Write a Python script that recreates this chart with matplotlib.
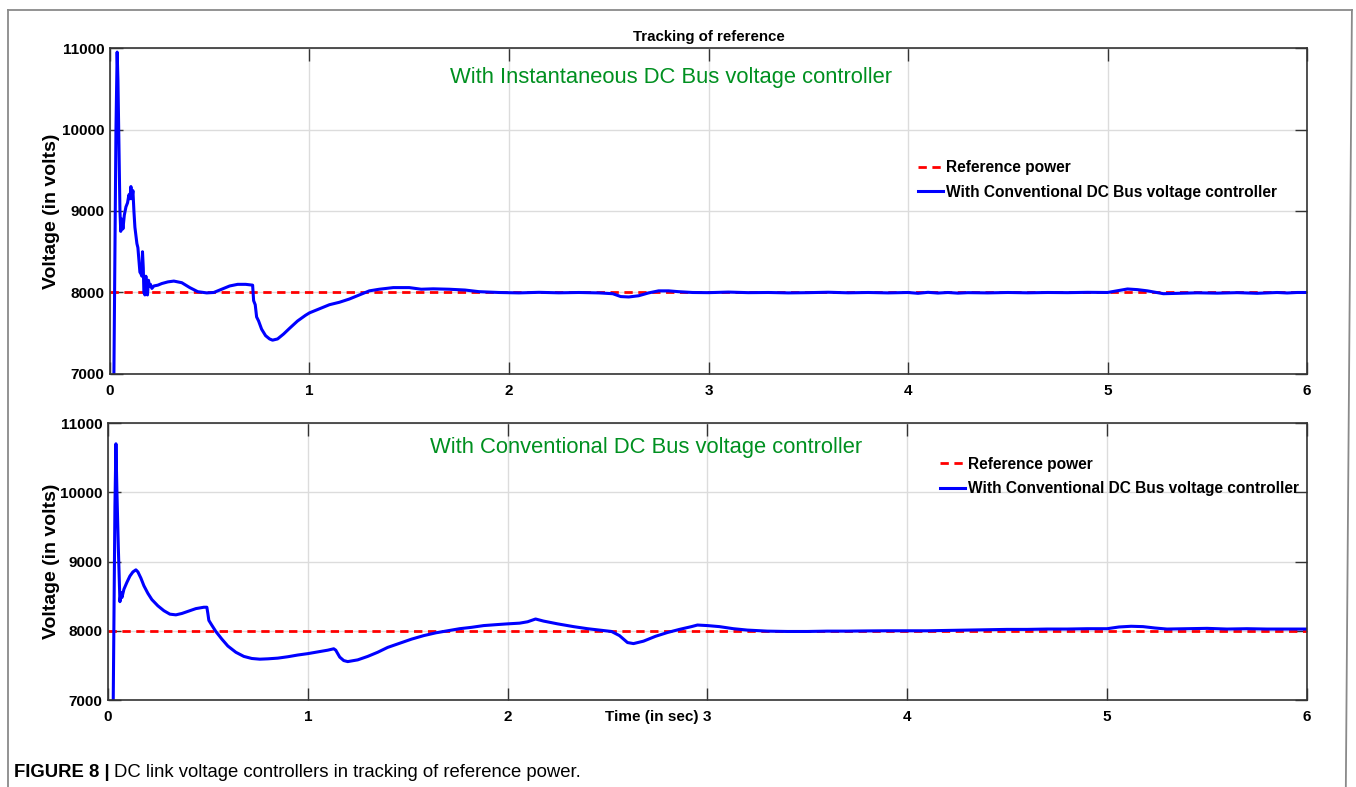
import matplotlib
matplotlib.use("Agg")
import matplotlib.pyplot as plt
from matplotlib.lines import Line2D

plt.rcParams['font.family'] = ['Liberation Sans', 'DejaVu Sans']

# --- DC link voltage, instantaneous controller ---
inst_t = [0.018, 0.030, 0.036, 0.040, 0.045, 0.050, 0.054, 0.060, 0.065, 0.072,
          0.080, 0.088, 0.095, 0.100, 0.105, 0.110, 0.115, 0.120, 0.125, 0.130,
          0.135, 0.140, 0.145, 0.150, 0.155, 0.160, 0.163, 0.167, 0.170, 0.175,
          0.180, 0.184, 0.188, 0.193, 0.198, 0.203, 0.210, 0.220, 0.240, 0.260,
          0.290, 0.320, 0.360, 0.400, 0.440, 0.485, 0.520, 0.560, 0.600, 0.640,
          0.680, 0.715, 0.720, 0.728, 0.735, 0.745, 0.760, 0.780, 0.800, 0.815,
          0.840, 0.870, 0.900, 0.940, 0.980, 1.000, 1.050, 1.100, 1.150, 1.200,
          1.250, 1.300, 1.350, 1.420, 1.500, 1.560, 1.620, 1.700, 1.780, 1.850,
          1.950, 2.050, 2.150, 2.250, 2.350, 2.450, 2.520, 2.560, 2.600, 2.650,
          2.700, 2.750, 2.800, 2.850, 2.920, 3.000, 3.100, 3.200, 3.300, 3.400,
          3.500, 3.600, 3.700, 3.800, 3.900, 4.000, 4.050, 4.100, 4.150, 4.200,
          4.250, 4.300, 4.400, 4.500, 4.600, 4.700, 4.800, 4.900, 5.000, 5.060,
          5.100, 5.150, 5.200, 5.280, 5.350, 5.450, 5.550, 5.650, 5.750, 5.850,
          5.900, 5.950, 6.000]
inst_v = [6500, 10000, 10950, 10600, 9800, 9000, 8750, 8900, 8780, 8950,
          9050, 9100, 9200, 9150, 9300, 9150, 9250, 9000, 8800, 8700,
          8600, 8550, 8400, 8250, 8230, 8200, 8500, 8300, 8000, 7970,
          8200, 8050, 7970, 8150, 8080, 8100, 8050, 8080, 8090, 8110,
          8130, 8140, 8120, 8060, 8010, 7995, 8000, 8040, 8080, 8100,
          8100, 8090, 7900, 7850, 7700, 7650, 7550, 7470, 7430, 7415,
          7430, 7490, 7560, 7650, 7720, 7750, 7800, 7850, 7880, 7920,
          7970, 8020, 8040, 8060, 8060, 8040, 8045, 8040, 8030, 8010,
          8000, 7995, 8002, 7996, 8000, 7995, 7985, 7950, 7945, 7960,
          7995, 8020, 8020, 8010, 8000, 7998, 8005, 7998, 8000, 7995,
          7998, 8003, 7996, 8000, 7995, 8000, 7990, 8002, 7993, 8000,
          7992, 7998, 7995, 8000, 7996, 8000, 7998, 8002, 8000, 8025,
          8043, 8035, 8020, 7985, 7990, 7996, 7992, 7998, 7990, 8000,
          7994, 8000, 8000]

# --- DC link voltage, conventional controller ---
conv_t = [0.025, 0.035, 0.040, 0.045, 0.052, 0.060, 0.065, 0.070, 0.080, 0.095,
          0.110, 0.125, 0.140, 0.150, 0.165, 0.180, 0.200, 0.220, 0.250, 0.280,
          0.310, 0.340, 0.370, 0.400, 0.440, 0.480, 0.495, 0.500, 0.505, 0.520,
          0.540, 0.570, 0.600, 0.640, 0.680, 0.720, 0.760, 0.800, 0.850, 0.900,
          0.950, 1.000, 1.050, 1.100, 1.130, 1.140, 1.160, 1.180, 1.200, 1.250,
          1.300, 1.350, 1.400, 1.460, 1.520, 1.580, 1.640, 1.700, 1.760, 1.820,
          1.880, 1.950, 2.000, 2.060, 2.100, 2.140, 2.180, 2.250, 2.330, 2.400,
          2.460, 2.520, 2.560, 2.600, 2.630, 2.680, 2.740, 2.800, 2.860, 2.920,
          2.950, 3.000, 3.060, 3.130, 3.200, 3.300, 3.400, 3.500, 3.600, 3.700,
          3.800, 3.900, 4.000, 4.100, 4.200, 4.300, 4.400, 4.500, 4.600, 4.700,
          4.800, 4.900, 5.000, 5.060, 5.120, 5.180, 5.240, 5.300, 5.400, 5.500,
          5.600, 5.700, 5.800, 5.900, 6.000]
conv_v = [6500, 9800, 10700, 10000, 9200, 8420, 8550, 8480, 8600, 8700,
          8790, 8850, 8880, 8850, 8760, 8650, 8540, 8450, 8360, 8290,
          8240, 8230, 8250, 8280, 8320, 8340, 8340, 8250, 8150, 8080,
          7990, 7880, 7780, 7690, 7630, 7600, 7590, 7595, 7605, 7625,
          7650, 7670, 7695, 7720, 7740, 7720, 7620, 7570, 7555, 7580,
          7630, 7690, 7760, 7820, 7880, 7930, 7970, 8000, 8030, 8050,
          8075, 8090, 8100, 8110, 8130, 8170, 8140, 8100, 8060, 8030,
          8010, 7990, 7930, 7830, 7815, 7850, 7920, 7975, 8020, 8060,
          8083, 8075, 8060, 8030, 8010, 7995, 7990, 7990, 7995, 7995,
          7998, 8000, 8000, 8000, 8005, 8010, 8015, 8020, 8020, 8025,
          8025, 8030, 8030, 8055, 8065, 8060, 8040, 8025, 8030, 8035,
          8025, 8030, 8025, 8025, 8025]

ref_t = [0, 6]
ref_v = [8000, 8000]

x_ticks = [0, 1, 2, 3, 4, 5, 6]
y_ticks = [7000, 8000, 9000, 10000, 11000]
legend_labels = ['Reference power', 'With Conventional DC Bus voltage controller']

fig = plt.figure(figsize=(13.56, 7.87), dpi=100)
ax1 = fig.add_axes([0.0811, 0.5248, 0.8828, 0.4142])
ax2 = fig.add_axes([0.0796, 0.1105, 0.8842, 0.3520])


def style_axes(ax, label_x):
    ax.set_xlim(0, 6)
    ax.set_ylim(7000, 11000)
    ax.set_xticks(x_ticks)
    ax.set_yticks(y_ticks)
    ax.grid(True, color='#dcdcdc', linewidth=1.0)
    ax.set_axisbelow(True)
    ax.tick_params(direction='in', length=9, width=1.0, color='#333333',
                   top=True, right=True, labelsize=11)
    ax.tick_params(axis='x', pad=7)
    ax.tick_params(axis='y', pad=4)
    for lbl in ax.get_xticklabels() + ax.get_yticklabels():
        lbl.set_fontweight('bold')
    for sp in ax.spines.values():
        sp.set_color('#333333')
        sp.set_linewidth(1.2)
    ax.set_ylabel('Voltage (in volts)', fontsize=14, fontweight='bold')
    ax.yaxis.set_label_coords(label_x, 0.5)


def draw_series(ax, t, v):
    ref, = ax.plot(ref_t, ref_v, color='#ff0000', linewidth=2.0,
                   linestyle=(0, (3, 2)), label=legend_labels[0])
    cur, = ax.plot(t, v, color='#0000ff', linewidth=2.2, label=legend_labels[1])
    return ref, cur


legend_kw = dict(loc='upper left', frameon=False, handlelength=1.6,
                 handletextpad=0.2, labelspacing=0.6, borderpad=0,
                 borderaxespad=0, prop={'weight': 'bold', 'size': 11.2})

# --- Upper panel ---
style_axes(ax1, -0.0415)
draw_series(ax1, inst_t, inst_v)
ax1.set_title('Tracking of reference', fontsize=10.8, fontweight='bold', pad=5)
ax1.text(0.4685, 0.911, 'With Instantaneous DC Bus voltage controller',
         transform=ax1.transAxes, ha='center', va='center',
         fontsize=15.8, color='#009020')
ax1.legend(bbox_to_anchor=(0.675, 0.655), **legend_kw)

# --- Lower panel ---
style_axes(ax2, -0.0398)
draw_series(ax2, conv_t, conv_v)
ax2.text(0.4488, 0.91, 'With Conventional DC Bus voltage controller',
         transform=ax2.transAxes, ha='center', va='center',
         fontsize=15.8, color='#009020')
ax2.text(0.4536, -0.061, 'Time (in sec)', transform=ax2.transAxes,
         ha='center', va='center', fontsize=11, fontweight='bold')
ax2.legend(bbox_to_anchor=(0.694, 0.878), **legend_kw)

# frame around figure and caption
frame_kw = dict(color='#8a8a8a', linewidth=1.3, transform=fig.transFigure)
fig.add_artist(Line2D([0.0059, 0.0059], [0.0, 0.9873], **frame_kw))
fig.add_artist(Line2D([0.0059, 0.9970], [0.9873, 0.9873], **frame_kw))
fig.add_artist(Line2D([0.9970, 0.9925], [0.9873, 0.0], **frame_kw))

cap_bold = fig.text(0.0103, 0.0178, 'FIGURE 8 |', fontsize=13.3, fontweight='bold',
                    ha='left', va='center')
fig.canvas.draw()
bb = cap_bold.get_window_extent()
fig.text((bb.x1 + 4) / fig.bbox.width, 0.0178,
         'DC link voltage controllers in tracking of reference power.',
         fontsize=13.3, ha='left', va='center')

fig.savefig('out.png', dpi=100)
